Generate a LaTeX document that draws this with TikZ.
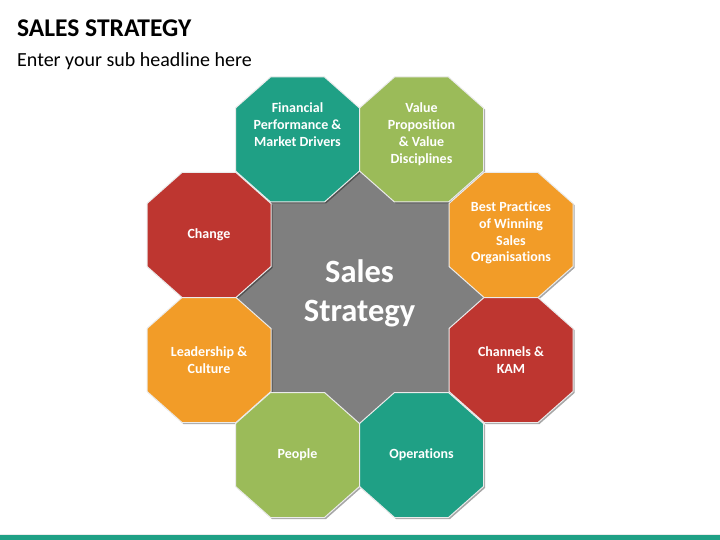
\documentclass[tikz,border=0pt]{standalone}
\usepackage{fontspec}
\setmainfont{Carlito}[Ligatures={NoCommon}]
\usetikzlibrary{shadows}
\definecolor{cteal}{RGB}{31,160,133}
\definecolor{cgreen}{RGB}{155,187,89}
\definecolor{corange}{RGB}{242,156,40}
\definecolor{cred}{RGB}{190,54,48}
\definecolor{cgray}{RGB}{127,127,127}
\definecolor{cline}{RGB}{235,235,235}
\tikzset{
  octs/.style={draw=cline, line width=1pt, line join=miter,
    drop shadow={shadow xshift=1.5pt, shadow yshift=-1.5pt, opacity=0.35, fill=black}},
  lbl/.style={text=white, font=\fontsize{14}{16.8}\selectfont\bfseries, align=center},
}
% octagon with centre named #1, fill #2
\newcommand{\myoct}[2]{%
  \path[octs, fill=#2] (#1) ++(-27,-62.5) -- ++(54,0) -- ++(35,31) -- ++(0,63)
     -- ++(-35,31) -- ++(-54,0) -- ++(-35,-31) -- ++(0,-63) -- cycle;}
\begin{document}
\begin{tikzpicture}[x=1pt,y=-1pt]
\useasboundingbox (0,0) rectangle (720,540);
% title
\node[anchor=base west, inner sep=0pt, font=\fontsize{25.5}{30}\selectfont\bfseries] (title) at (17,37) {SALES STRATEGY};
\node[anchor=base west, inner sep=0pt, font=\fontsize{20}{24}\selectfont] (sub) at (17,67) {Enter your sub headline here};
% centres
\coordinate (fin)  at (297.5,139.5);
\coordinate (val)  at (421.5,139.5);
\coordinate (chg)  at (209,235);
\coordinate (best) at (511,235);
\coordinate (lead) at (209,360);
\coordinate (chan) at (511,360);
\coordinate (peop) at (297.5,455);
\coordinate (oper) at (421.5,455);
\coordinate (core) at (359.5,297.5);
% centre shape
\fill[cgray] (268,200) -- (324,200) -- (359.5,169) -- (395,200) -- (451,200) -- (451,264)
  -- (486,297.5) -- (451,331) -- (451,395) -- (395,395) -- (359.5,427) -- (324,395)
  -- (268,395) -- (268,331) -- (233,297.5) -- (268,264) -- cycle;
% surrounding octagons
\myoct{fin}{cteal}
\myoct{val}{cgreen}
\myoct{chg}{cred}
\myoct{best}{corange}
\myoct{lead}{corange}
\myoct{chan}{cred}
\myoct{peop}{cgreen}
\myoct{oper}{cteal}
% labels
\node[lbl, anchor=north] (tfin) at (297.5,99.5) {Financial\\Performance \&\\Market Drivers};
\node[lbl, anchor=north] (tval) at (421.5,99.5) {Value\\Proposition\\\& Value\\Disciplines};
\node[lbl] (tchg)  at (chg)  {Change};
\node[lbl] (tbest) at (511,233) {Best Practices\\of Winning\\Sales\\Organisations};
\node[lbl] (tlead) at (lead) {Leadership \&\\Culture};
\node[lbl] (tchan) at (chan) {Channels \&\\KAM};
\node[lbl] (tpeop) at (peop) {People};
\node[lbl] (toper) at (oper) {Operations};
\node[text=white, font=\fontsize{32.5}{39}\selectfont\bfseries, align=center] (tcore) at (359.5,293) {Sales\\Strategy};
% bottom bar
\fill[cteal] (0,534.5) rectangle (720,540);
\draw[cline, line width=0.8pt] (0,534) -- (720,534);
\end{tikzpicture}
\end{document}
